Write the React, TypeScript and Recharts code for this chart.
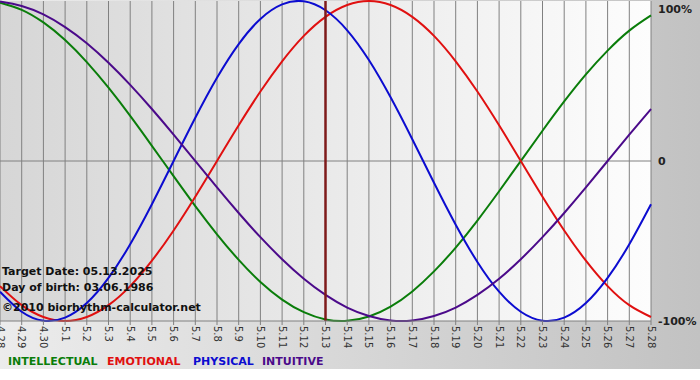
import React from "react";
import { LineChart, Line, XAxis, YAxis, CartesianGrid, ReferenceLine } from "recharts";

const dates = ["4.28","4.29","4.30","5.1","5.2","5.3","5.4","5.5","5.6","5.7","5.8","5.9","5.10","5.11","5.12","5.13","5.14","5.15","5.16","5.17","5.18","5.19","5.20","5.21","5.22","5.23","5.24","5.25","5.26","5.27","5.28"];
const intellectual = [99.0,94.5,86.6,75.6,61.8,45.8,28.2,9.5,-9.5,-28.2,-45.8,-61.8,-75.6,-86.6,-94.5,-99.0,-99.9,-97.2,-91.0,-81.5,-69.0,-54.1,-37.2,-18.9,0,18.9,37.2,54.1,69.0,81.5,91.0];
const emotional = [-78.2,-90.1,-97.5,-100,-97.5,-90.1,-78.2,-62.3,-43.4,-22.3,0,22.3,43.4,62.3,78.2,90.1,97.5,100,97.5,90.1,78.2,62.3,43.4,22.3,0,-22.3,-43.4,-62.3,-78.2,-90.1,-97.5];
const physical = [-81.7,-94.2,-99.8,-97.9,-88.8,-73.1,-52.0,-27.0,0,27.0,52.0,73.1,88.8,97.9,99.8,94.2,81.7,63.1,39.8,13.6,-13.6,-39.8,-63.1,-81.7,-94.2,-99.8,-97.9,-88.8,-73.1,-52.0,-27.0];
const intuitive = [99.7,96.9,91.6,83.7,73.6,61.4,47.6,32.5,16.5,0,-16.5,-32.5,-47.6,-61.4,-73.6,-83.7,-91.6,-96.9,-99.7,-99.7,-96.9,-91.6,-83.7,-73.6,-61.4,-47.6,-32.5,-16.5,0,16.5,32.5];
const yTicks = [-100, 0, 100];
const yLabels: Record<number, string> = { "-100": "-100%", "0": "0", "100": "100%" } as any;
const targetDate = "5.13";
const infoLines = ["Target Date: 05.13.2025", "Day of birth: 03.06.1986", "\u00a92010 biorhythm-calculator.net"];
const legendItems = [
  { name: "INTELLECTUAL", color: "#0a7d0a" },
  { name: "EMOTIONAL", color: "#e01010" },
  { name: "PHYSICAL", color: "#0c0cd0" },
  { name: "INTUITIVE", color: "#4b0a8a" },
];

const data = dates.map((d, i) => ({
  date: d,
  intellectual: intellectual[i],
  emotional: emotional[i],
  physical: physical[i],
  intuitive: intuitive[i],
}));

const FONT = "'DejaVu Sans', Verdana, sans-serif";

const XTick = (props: any) => {
  const { x, y, payload } = props;
  return (
    <text
      transform={`translate(${x},${y + 1}) rotate(90)`}
      textAnchor="start"
      dominantBaseline="central"
      fontSize={10}
      fontFamily={FONT}
      fill="#333"
    >
      {payload.value}
    </text>
  );
};

const YTick = (props: any) => {
  const { x, y, payload } = props;
  const by = Math.max(y + 4, 10);
  return (
    <text x={x - 1} y={by} textAnchor="start" fontSize={11} fontWeight="bold" fontFamily={FONT} fill="#222">
      {yLabels[payload.value]}
    </text>
  );
};

export default function App() {
  return (
    <div
      style={{
        position: "absolute",
        left: 0,
        top: 0,
        width: 700,
        height: 380,
        background: "linear-gradient(to right, #ececec, #c2c2c2)",
        fontFamily: FONT,
        overflow: "hidden",
      }}
    >
      <div style={{ position: "absolute", left: 0, top: 369, width: 700, height: 11, background: "#fff" }} />
      <LineChart width={700} height={380} data={data} margin={{ top: 1, right: 0, left: 0, bottom: 0 }}>
        <defs>
          <linearGradient id="plotBg" x1="0" y1="0" x2="1" y2="0">
            <stop offset="0%" stopColor="#d6d6d6" />
            <stop offset="100%" stopColor="#fdfdfd" />
          </linearGradient>
        </defs>
        <CartesianGrid horizontal={false} vertical={true} stroke="#808080" fill="url(#plotBg)" fillOpacity={1} />
        <XAxis
          dataKey="date"
          interval={0}
          height={59}
          tickSize={4}
          tickMargin={0}
          stroke="#808080"
          tick={<XTick />}
        />
        <YAxis
          orientation="right"
          domain={[-100, 100]}
          ticks={yTicks}
          width={49}
          axisLine={false}
          tickLine={false}
          tick={<YTick />}
        />
        <ReferenceLine y={0} stroke="#808080" />
        <Line type="natural" dataKey="intellectual" stroke={legendItems[0].color} strokeWidth={2} dot={false} isAnimationActive={false} />
        <Line type="natural" dataKey="emotional" stroke={legendItems[1].color} strokeWidth={2} dot={false} isAnimationActive={false} />
        <Line type="natural" dataKey="physical" stroke={legendItems[2].color} strokeWidth={2} dot={false} isAnimationActive={false} />
        <Line type="natural" dataKey="intuitive" stroke={legendItems[3].color} strokeWidth={2} dot={false} isAnimationActive={false} />
        <ReferenceLine x={targetDate} stroke="#7e1a1a" strokeWidth={2.5} />
      </LineChart>
      {infoLines.map((t, i) => (
        <div
          key={i}
          style={{
            position: "absolute",
            left: 2,
            top: [265, 281, 301][i],
            fontSize: 11,
            fontWeight: "bold",
            color: "#111",
            lineHeight: "14px",
            whiteSpace: "nowrap",
          }}
        >
          {t}
        </div>
      ))}
      {legendItems.map((it, i) => (
        <div
          key={it.name}
          style={{
            position: "absolute",
            left: [8, 107, 193, 262][i],
            top: 355,
            fontSize: 11,
            fontWeight: "bold",
            color: it.color,
            lineHeight: "14px",
            whiteSpace: "nowrap",
          }}
        >
          {it.name}
        </div>
      ))}
    </div>
  );
}
